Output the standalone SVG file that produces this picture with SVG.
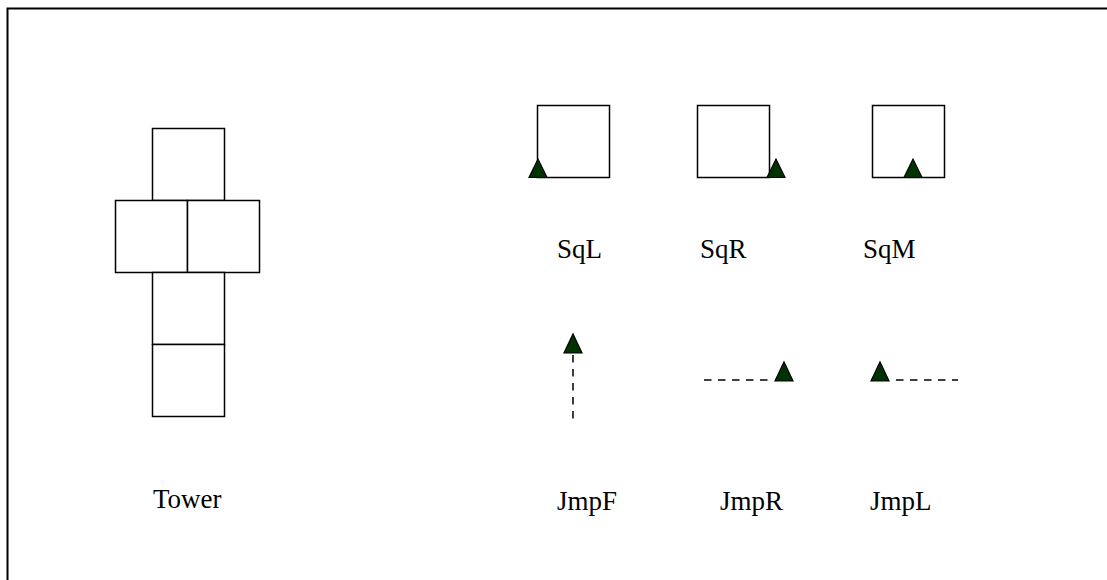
<svg xmlns="http://www.w3.org/2000/svg" width="1107" height="580" viewBox="0 0 1107 580">
<style>
.sq{fill:#fff;stroke:#000;stroke-width:1.5}
.tri{fill:#003300;stroke:#000;stroke-width:1.2;stroke-linejoin:miter}
.dash{stroke:#000;stroke-width:1.5;stroke-dasharray:7.5,6.5;fill:none}
.lbl{font-family:"Liberation Serif","Times New Roman",serif;font-size:27px;fill:#000}
</style>
<rect width="1107" height="580" fill="#fff"/>
<g id="frame"><path d="M7.5,580 V8.5 H1107" fill="none" stroke="#000" stroke-width="2"/></g>
<g id="tower">
<rect class="sq" x="152.5" y="128.5" width="72" height="72"/>
<rect class="sq" x="115.5" y="200.5" width="72" height="72"/>
<rect class="sq" x="187.5" y="200.5" width="72" height="72"/>
<rect class="sq" x="152.5" y="272.5" width="72" height="72"/>
<rect class="sq" x="152.5" y="344.5" width="72" height="72"/>
<text class="lbl" x="153" y="508">Tower</text>
</g>
<g id="SqL">
<rect class="sq" x="537.5" y="105.5" width="72" height="72"/>
<polygon class="tri" points="529,177.5 547,177.5 538,159"/>
<text class="lbl" x="557" y="258">SqL</text>
</g>
<g id="SqR">
<rect class="sq" x="697.5" y="105.5" width="72" height="72"/>
<polygon class="tri" points="767,177.5 785,177.5 776,159"/>
<text class="lbl" x="700" y="258">SqR</text>
</g>
<g id="SqM">
<rect class="sq" x="872.5" y="105.5" width="72" height="72"/>
<polygon class="tri" points="904,177.5 922,177.5 913,159"/>
<text class="lbl" x="863" y="258">SqM</text>
</g>
<g id="connectors">
<line class="dash" x1="573" y1="355" x2="573" y2="419"/>
<line class="dash" x1="704" y1="380" x2="770" y2="380"/>
<line class="dash" x1="896" y1="380" x2="958" y2="380"/>
</g>
<g id="JmpF">
<polygon class="tri" points="564,353 582,353 573,334"/>
<text class="lbl" x="557" y="510">JmpF</text>
</g>
<g id="JmpR">
<polygon class="tri" points="775,381 793,381 784,362"/>
<text class="lbl" x="720" y="510">JmpR</text>
</g>
<g id="JmpL">
<polygon class="tri" points="871,381 889,381 880,362"/>
<text class="lbl" x="870" y="510">JmpL</text>
</g>
</svg>
